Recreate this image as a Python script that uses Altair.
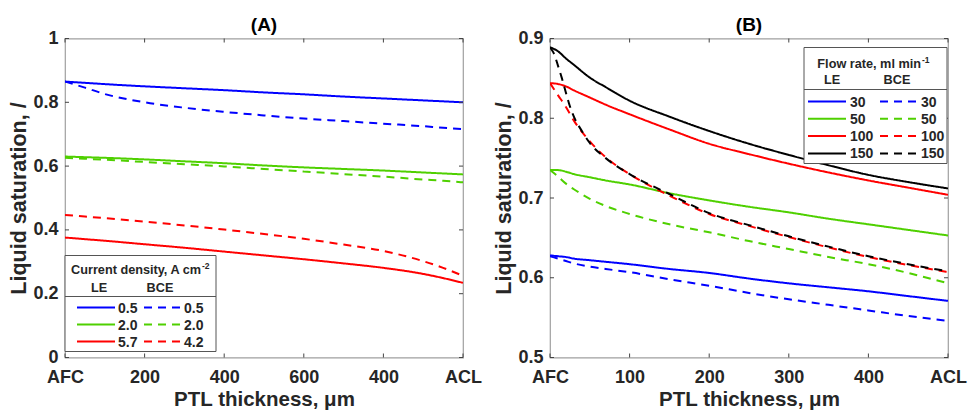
import altair as alt
import pandas as pd

FONT = "Liberation Sans"
TXT = "#262626"
FRAME = "#a0a0a0"
BLUE, GREEN, RED, BLACK = "#0000ff", "#4fd000", "#ff0000", "#000000"
DASH = [8, 6]

# ---------------- Panel A data ----------------
A_x = [0, 50, 100, 200, 300, 400, 500, 600, 700, 800, 900, 950, 1000]
A_LE_05 = [0.865, 0.861, 0.857, 0.850, 0.844, 0.838, 0.831, 0.825, 0.818, 0.812, 0.806, 0.803, 0.800]
A_BCE_05 = [0.865, 0.846, 0.826, 0.800, 0.783, 0.770, 0.759, 0.749, 0.741, 0.733, 0.725, 0.720, 0.716]
A_LE_20 = [0.630, 0.628, 0.626, 0.621, 0.615, 0.609, 0.602, 0.596, 0.591, 0.586, 0.580, 0.577, 0.574]
A_BCE_20 = [0.626, 0.623, 0.620, 0.613, 0.606, 0.599, 0.591, 0.583, 0.575, 0.567, 0.558, 0.554, 0.549]
A_LE_57 = [0.376, 0.371, 0.366, 0.355, 0.344, 0.332, 0.320, 0.308, 0.295, 0.281, 0.262, 0.249, 0.234]
A_BCE_42 = [0.447, 0.442, 0.437, 0.426, 0.414, 0.401, 0.387, 0.372, 0.354, 0.334, 0.302, 0.281, 0.256]
A_ticks = [0, 200, 400, 600, 800, 1000]
A_tick_labels = ["AFC", "200", "400", "600", "400", "ACL"]
A_yticks = [0, 0.2, 0.4, 0.6, 0.8, 1.0]
A_LE_labels = ["0.5", "2.0", "5.7"]
A_BCE_labels = ["0.5", "2.0", "4.2"]
A_colors = [BLUE, GREEN, RED]

# ---------------- Panel B data ----------------
B_x = [0, 10, 20, 30, 50, 70, 100, 150, 200, 250, 300, 350, 400, 450, 500]
B_LE_30 = [0.628, 0.627, 0.626, 0.624, 0.622, 0.620, 0.617, 0.611, 0.606, 0.599, 0.593, 0.588, 0.583, 0.577, 0.571]
B_BCE_30 = [0.627, 0.624, 0.621, 0.618, 0.614, 0.611, 0.607, 0.598, 0.590, 0.581, 0.573, 0.566, 0.559, 0.552, 0.546]
B_LE_50 = [0.735, 0.735, 0.733, 0.730, 0.726, 0.722, 0.717, 0.706, 0.697, 0.689, 0.682, 0.674, 0.667, 0.660, 0.653]
B_BCE_50 = [0.735, 0.727, 0.718, 0.711, 0.699, 0.690, 0.680, 0.667, 0.657, 0.646, 0.636, 0.626, 0.617, 0.606, 0.593]
B_LE_100 = [0.844, 0.843, 0.840, 0.835, 0.826, 0.817, 0.805, 0.786, 0.768, 0.755, 0.743, 0.732, 0.722, 0.713, 0.704]
B_BCE_100 = [0.844, 0.829, 0.814, 0.797, 0.771, 0.751, 0.730, 0.703, 0.680, 0.665, 0.651, 0.638, 0.626, 0.616, 0.607]
B_LE_150 = [0.889, 0.884, 0.875, 0.867, 0.851, 0.839, 0.822, 0.802, 0.784, 0.768, 0.754, 0.741, 0.729, 0.720, 0.712]
B_x_BCE_150 = [0, 5, 10, 15, 20, 25, 30, 40, 50, 70, 100, 150, 200, 250, 300, 350, 400, 450, 500]
B_BCE_150 = [0.889, 0.881, 0.866, 0.850, 0.832, 0.815, 0.802, 0.784, 0.769, 0.750, 0.730, 0.705, 0.681, 0.666, 0.652, 0.639, 0.627, 0.617, 0.608]
B_ticks = [0, 100, 200, 300, 400, 500]
B_tick_labels = ["AFC", "100", "200", "300", "400", "ACL"]
B_yticks = [0.5, 0.6, 0.7, 0.8, 0.9]
B_labels = ["30", "50", "100", "150"]
B_colors = [BLUE, GREEN, RED, BLACK]

W, H = 398, 319


def long_df(entries):
    rows = []
    for name, kind, color, xs, ys in entries:
        for x, y in zip(xs, ys):
            rows.append({"x": x, "y": y, "series": name, "kind": kind, "color": color})
    return pd.DataFrame(rows)


def label_expr(vals, labels):
    return "[" + ",".join("'%s'" % l for l in labels) + "][indexof([" + ",".join(str(v) for v in vals) + "], datum.value)]"


def panel(df, xdom, ydom, xticks, xlabels, yticks, title, legend_layers):
    xs = alt.Scale(domain=xdom, nice=False, zero=False)
    ys = alt.Scale(domain=ydom, nice=False, zero=False)
    xax = alt.Axis(values=xticks, labelExpr=label_expr(xticks, xlabels), labelFlush=False,
                   title="PTL thickness, μm", titleFontSize=20.5, ticks=False, domain=False, grid=False,
                   labelPadding=11, titlePadding=3)
    yax = alt.Axis(values=yticks, format=".1~f", title="Liquid saturation, /", titleFontSize=21.5,
                   ticks=False, domain=False, grid=False, labelPadding=7, labelFlush=False,
                   titlePadding=2)
    lines = alt.Chart(df).mark_line(strokeWidth=2, interpolate="monotone", clip=True).encode(
        x=alt.X("x:Q", scale=xs, axis=xax),
        y=alt.Y("y:Q", scale=ys, axis=yax),
        color=alt.Color("color:N", scale=None),
        strokeDash=alt.StrokeDash("kind:N", scale=alt.Scale(domain=["LE", "BCE"], range=[[1, 0], DASH]), legend=None),
        detail="series:N",
    )
    xt = pd.DataFrame({"x": xticks})
    yt = pd.DataFrame({"y": yticks})
    tk = dict(color="#444444", strokeWidth=1)
    t_bottom = alt.Chart(xt).mark_rule(**tk).encode(x=alt.X("x:Q", scale=xs, axis=xax), y=alt.value(H), y2=alt.value(H - 4))
    t_top = alt.Chart(xt).mark_rule(**tk).encode(x=alt.X("x:Q", scale=xs, axis=xax), y=alt.value(0), y2=alt.value(4))
    t_left = alt.Chart(yt).mark_rule(**tk).encode(y=alt.Y("y:Q", scale=ys, axis=yax), x=alt.value(0), x2=alt.value(4))
    t_right = alt.Chart(yt).mark_rule(**tk).encode(y=alt.Y("y:Q", scale=ys, axis=yax), x=alt.value(W), x2=alt.value(W - 4))
    return alt.layer(lines, t_bottom, t_top, t_left, t_right, *legend_layers).properties(
        width=W, height=H,
        title=alt.Title(title, fontSize=19, font=FONT, fontWeight="bold", color="#000000", offset=-5),
    )


def legend(x0, y0, w, h, title, sup, title_end, title_y, le_cx, bce_cx, head_y, sep_y,
           row_y0, dy, le_x, bce_x, le_labels, bce_labels, colors):
    n = len(colors)
    box = alt.Chart(pd.DataFrame({"a": [0]})).mark_rect(fill="white", stroke="#555555", strokeWidth=1).encode(
        x=alt.value(x0), x2=alt.value(x0 + w), y=alt.value(y0), y2=alt.value(y0 + h))
    sep = alt.Chart(pd.DataFrame({"a": [0]})).mark_rule(color="#555555", strokeWidth=1).encode(
        x=alt.value(x0), x2=alt.value(x0 + w), y=alt.value(y0 + sep_y))
    tfont = dict(font=FONT, fontWeight="bold", color=TXT)
    ttl = alt.Chart(pd.DataFrame({"t": [title]})).mark_text(align="right", baseline="alphabetic", fontSize=12.7, **tfont).encode(
        text="t:N", x=alt.value(x0 + title_end), y=alt.value(y0 + title_y))
    sp = alt.Chart(pd.DataFrame({"t": [sup]})).mark_text(align="left", baseline="alphabetic", fontSize=8.5, **tfont).encode(
        text="t:N", x=alt.value(x0 + title_end + 1), y=alt.value(y0 + title_y - 5))
    hd = alt.Chart(pd.DataFrame({"t": ["LE", "BCE"], "px": [x0 + le_cx, x0 + bce_cx], "py": [y0 + head_y] * 2})).mark_text(
        align="center", baseline="alphabetic", fontSize=12.7, **tfont).encode(
        text="t:N", x=alt.X("px:Q", scale=None), y=alt.Y("py:Q", scale=None))
    rows = pd.DataFrame({
        "color": colors,
        "py": [y0 + row_y0 + i * dy for i in range(n)],
        "le_a": [x0 + le_x[0]] * n, "le_b": [x0 + le_x[1]] * n,
        "bce_a": [x0 + bce_x[0]] * n, "bce_b": [x0 + bce_x[1]] * n,
        "le_t": [x0 + le_x[2]] * n, "bce_t": [x0 + bce_x[2]] * n,
        "le_lab": le_labels, "bce_lab": bce_labels,
    })
    le_line = alt.Chart(rows).mark_rule(strokeWidth=2).encode(
        x=alt.X("le_a:Q", scale=None), x2="le_b:Q", y=alt.Y("py:Q", scale=None), color=alt.Color("color:N", scale=None))
    bce_line = alt.Chart(rows).mark_rule(strokeWidth=2, strokeDash=DASH).encode(
        x=alt.X("bce_a:Q", scale=None), x2="bce_b:Q", y=alt.Y("py:Q", scale=None), color=alt.Color("color:N", scale=None))
    le_txt = alt.Chart(rows).mark_text(align="left", baseline="middle", fontSize=14, dy=1, **tfont).encode(
        text="le_lab:N", x=alt.X("le_t:Q", scale=None), y=alt.Y("py:Q", scale=None))
    bce_txt = alt.Chart(rows).mark_text(align="left", baseline="middle", fontSize=14, dy=1, **tfont).encode(
        text="bce_lab:N", x=alt.X("bce_t:Q", scale=None), y=alt.Y("py:Q", scale=None))
    return [box, sep, ttl, sp, hd, le_line, bce_line, le_txt, bce_txt]


dfA = long_df([
    ("LE 0.5", "LE", BLUE, A_x, A_LE_05), ("BCE 0.5", "BCE", BLUE, A_x, A_BCE_05),
    ("LE 2.0", "LE", GREEN, A_x, A_LE_20), ("BCE 2.0", "BCE", GREEN, A_x, A_BCE_20),
    ("LE 5.7", "LE", RED, A_x, A_LE_57), ("BCE 4.2", "BCE", RED, A_x, A_BCE_42),
])
dfB = long_df([
    ("LE 30", "LE", BLUE, B_x, B_LE_30), ("BCE 30", "BCE", BLUE, B_x, B_BCE_30),
    ("LE 50", "LE", GREEN, B_x, B_LE_50), ("BCE 50", "BCE", GREEN, B_x, B_BCE_50),
    ("LE 100", "LE", RED, B_x, B_LE_100), ("BCE 100", "BCE", RED, B_x, B_BCE_100),
    ("LE 150", "LE", BLACK, B_x, B_LE_150), ("BCE 150", "BCE", BLACK, B_x_BCE_150, B_BCE_150),
])

legA = legend(0, 217, 151, 96, "Current density, A cm", "-2", 136, 18, 34, 95, 36, 41,
              52, 17, (12, 50, 53), (79, 117, 119), A_LE_labels, A_BCE_labels, A_colors)
legB = legend(W - 144, 9, 143, 116, "Flow rate, ml min", "-1", 117, 20, 28, 93, 36, 42,
              54, 17.3, (4, 42, 46), (76, 113, 117), B_labels, B_labels, B_colors)

pA = panel(dfA, [0, 1000], [0, 1], A_ticks, A_tick_labels, A_yticks, "(A)", legA)
pB = panel(dfB, [0, 500], [0.5, 0.9], B_ticks, B_tick_labels, B_yticks, "(B)", legB)

chart = alt.hconcat(pA, pB, spacing=87, bounds="flush").configure(
    padding={"left": 0, "top": 6.5, "right": 0, "bottom": 0},
).configure_view(stroke=FRAME, strokeWidth=1.2).configure_axis(
    labelFont=FONT, labelFontSize=18, labelFontWeight="bold", labelColor=TXT,
    titleFont=FONT, titleFontWeight="bold", titleColor=TXT,
)

chart.save("out.html", embed_options={"renderer": "svg", "actions": False})
